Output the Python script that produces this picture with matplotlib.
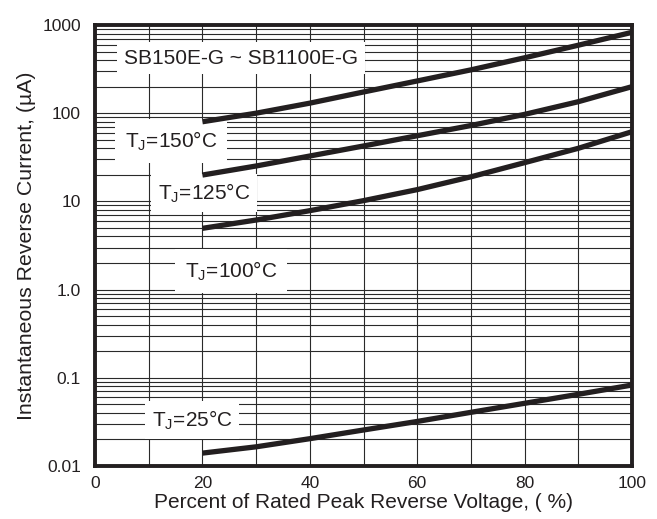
import matplotlib
matplotlib.use("Agg")
import matplotlib.pyplot as plt
import numpy as np
from matplotlib.ticker import LogLocator, FixedLocator, NullFormatter

plt.rcParams['font.family'] = ['Liberation Sans', 'DejaVu Sans']

x_pct = [20, 30, 40, 50, 60, 70, 80, 90, 100]
i_150 = [80, 100, 130, 174, 232, 310, 425, 590, 826]
i_125 = [19.9, 25.2, 32.7, 42.5, 55.5, 72.5, 97, 135, 200]
i_100 = [4.95, 6.15, 7.85, 10.2, 13.6, 19.0, 27.5, 40, 61.7]
i_25 = [0.0140, 0.0165, 0.0204, 0.0256, 0.0320, 0.0406, 0.0514, 0.065, 0.0828]

y_ticks = [0.01, 0.1, 1, 10, 100, 1000]
y_ticklabels = ['0.01', '0.1', '1.0', '10', '100', '1000']
x_ticks = [0, 20, 40, 60, 80, 100]

fig = plt.figure(figsize=(6.57, 5.19), dpi=100)
ax = fig.add_axes([95/657, 1-466/519, (632-95)/657, (466-25)/519])
ax.set_yscale('log')
ax.set_xlim(0, 100)
ax.set_ylim(0.01, 1000)

ax.xaxis.set_major_locator(FixedLocator(x_ticks))
ax.xaxis.set_minor_locator(FixedLocator(list(range(0, 101, 10))))
ax.yaxis.set_major_locator(FixedLocator(y_ticks))
ax.set_yticklabels(y_ticklabels)
ax.yaxis.set_minor_locator(LogLocator(base=10, subs=np.arange(2, 10)))
ax.yaxis.set_minor_formatter(NullFormatter())

ax.grid(True, which='both', axis='both', color='#2a2a2a', lw=0.8, zorder=1)
ax.tick_params(which='both', length=0, labelsize=12.5, colors='#231f20')
ax.tick_params(axis='y', pad=10)
ax.tick_params(axis='x', pad=7)

for ys in (i_150, i_125, i_100, i_25):
    ax.plot(x_pct, ys, color='#231f20', lw=3.8, zorder=4, solid_capstyle='butt',
            solid_joinstyle='round')

for s in ax.spines.values():
    s.set_linewidth(2.8)
    s.set_color('#231f20')
    s.set_zorder(5)

fs = 15
def lab(x, y, t, padx=5):
    ax.text(x, y, t, transform=ax.transAxes, fontsize=fs, ha='center', va='center',
            color='#231f20',
            bbox=dict(facecolor='white', edgecolor='none', pad=padx), zorder=3)

lab(0.272, 0.925, 'SB150E-G ~ SB1100E-G')
lab(0.142, 0.737, r'T$_\mathregular{J}$=150°C', 7)
lab(0.203, 0.619, r'T$_\mathregular{J}$=125°C')
lab(0.254, 0.442, r'T$_\mathregular{J}$=100°C', 7)
lab(0.181, 0.104, r'T$_\mathregular{J}$=25°C')

ax.set_xlabel('Percent of Rated Peak Reverse Voltage, ( %)', fontsize=15, labelpad=2,
              color='#231f20')
ax.set_ylabel('Instantaneous Reverse Current, (µA)', fontsize=15.3, labelpad=5,
              color='#231f20')

fig.savefig('out.png', dpi=100)
